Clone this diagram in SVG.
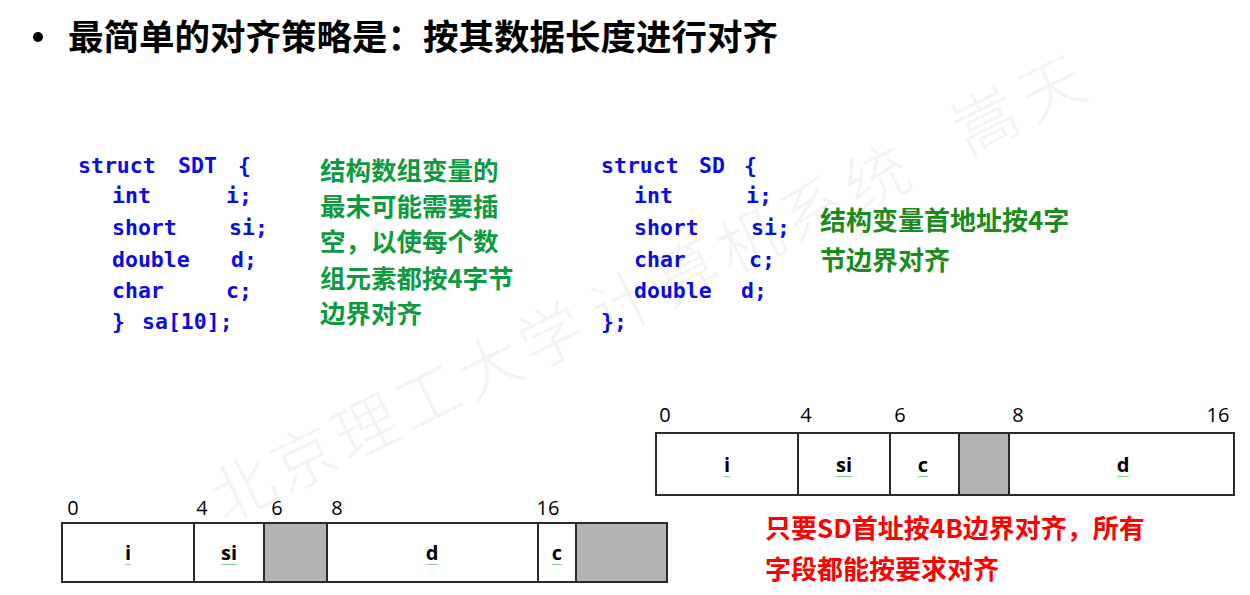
<svg xmlns="http://www.w3.org/2000/svg" width="1250" height="595" viewBox="0 0 1250 595">
<style>
.title{font-family:"Noto Sans CJK SC","Noto Sans",sans-serif;font-weight:700;font-size:35.5px;fill:#000}
.code{font-family:"DejaVu Sans Mono","Liberation Mono",monospace;font-weight:700;font-size:21.5px;fill:#0a0ae6}
.gl{font-family:"Noto Sans CJK SC",sans-serif;font-weight:700;font-size:25.5px;fill:#0e9a40}
.gr{font-family:"Noto Sans CJK SC",sans-serif;font-weight:700;font-size:26px;fill:#1b8c1b}
.red{font-family:"Noto Sans CJK SC",sans-serif;font-weight:700;font-size:26px;fill:#ff0000}
.num{font-family:"Open Sans","Noto Sans",sans-serif;font-size:20px;fill:#000;text-anchor:middle}
.cell{font-family:"Open Sans","Noto Sans",sans-serif;font-weight:700;font-size:20px;fill:#000;text-anchor:middle}
.box{fill:#fff;stroke:#2a2a2a;stroke-width:2}
.pad{fill:#b3b3b3;stroke:#2a2a2a;stroke-width:2}
.sq{fill:none;stroke:#6fbf6f;stroke-width:0.8}
.wm{font-family:"Noto Sans CJK SC",sans-serif;font-weight:300;font-size:64px;fill:#f3f3f3}
</style>
<rect width="1250" height="595" fill="#fff"/>
<g id="watermark">
<text class="wm" transform="translate(224,524) rotate(-26.3)" letter-spacing="5">北京理工大学</text>
<text class="wm" transform="translate(604,339) rotate(-26.3)" letter-spacing="7">计算机系统</text>
<text class="wm" transform="translate(967,156) rotate(-26.3)" letter-spacing="10">嵩天</text>
</g>
<g id="title">
<circle cx="38" cy="37" r="5" fill="#000"/>
<text class="title" x="68" y="50">最简单的对齐策略是：按其数据长度进行对齐</text>
</g>
<g id="code-sdt">
<text class="code" x="78" y="173">struct</text><text class="code" x="178" y="173">SDT</text><text class="code" x="238" y="173">{</text>
<text class="code" x="112" y="203">int</text><text class="code" x="226" y="203">i;</text>
<text class="code" x="112" y="235">short</text><text class="code" x="229" y="235">si;</text>
<text class="code" x="112" y="267">double</text><text class="code" x="231" y="267">d;</text>
<text class="code" x="112" y="298">char</text><text class="code" x="226" y="298">c;</text>
<text class="code" x="112" y="329">}</text><text class="code" x="142" y="329">sa[10];</text>
</g>
<g id="note-sdt">
<text class="gl" x="320" y="180">结构数组变量的</text>
<text class="gl" x="320" y="216">最末可能需要插</text>
<text class="gl" x="320" y="251">空，以使每个数</text>
<text class="gl" x="320" y="288">组元素都按4字节</text>
<text class="gl" x="320" y="323">边界对齐</text>
</g>
<g id="code-sd">
<text class="code" x="601" y="173">struct</text><text class="code" x="699" y="173">SD</text><text class="code" x="744" y="173">{</text>
<text class="code" x="634" y="203">int</text><text class="code" x="746" y="203">i;</text>
<text class="code" x="634" y="235">short</text><text class="code" x="751" y="235">si;</text>
<text class="code" x="634" y="267">char</text><text class="code" x="749" y="267">c;</text>
<text class="code" x="634" y="298">double</text><text class="code" x="741" y="298">d;</text>
<text class="code" x="601" y="329">};</text>
</g>
<g id="note-sd">
<text class="gr" x="820" y="230">结构变量首地址按4字</text>
<text class="gr" x="820" y="270">节边界对齐</text>
</g>
<g id="layout-sd">
<text class="num" x="665" y="422">0</text>
<text class="num" x="806" y="422">4</text>
<text class="num" x="900" y="422">6</text>
<text class="num" x="1018" y="422">8</text>
<text class="num" x="1218" y="422">16</text>
<rect class="box" x="656" y="433" width="142" height="62"/>
<rect class="box" x="798" y="433" width="92" height="62"/>
<rect class="box" x="890" y="433" width="69" height="62"/>
<rect class="pad" x="959" y="433" width="50" height="62"/>
<rect class="box" x="1009" y="433" width="225" height="62"/>
<text class="cell" x="727" y="472">i</text>
<text class="cell" x="844" y="472">si</text>
<text class="cell" x="923" y="472">c</text>
<text class="cell" x="1123" y="472">d</text>
<path class="sq" d="M724 476 l1 1 1-1 1 1 1-1 1 1 1-1"/>
<path class="sq" d="M836 476 l1 1 1-1 1 1 1-1 1 1 1-1 1 1 1-1 1 1 1-1 1 1 1-1 1 1 1-1 1 1 1-1"/>
<path class="sq" d="M918 476 l1 1 1-1 1 1 1-1 1 1 1-1 1 1 1-1 1 1 1-1"/>
<path class="sq" d="M1117 476 l1 1 1-1 1 1 1-1 1 1 1-1 1 1 1-1 1 1 1-1 1 1 1-1"/>
</g>
<g id="layout-sdt">
<text class="num" x="73" y="515">0</text>
<text class="num" x="202" y="515">4</text>
<text class="num" x="277" y="515">6</text>
<text class="num" x="337" y="515">8</text>
<text class="num" x="548" y="515">16</text>
<rect class="box" x="62" y="523" width="132" height="59"/>
<rect class="box" x="194" y="523" width="70" height="59"/>
<rect class="pad" x="264" y="523" width="63" height="59"/>
<rect class="box" x="327" y="523" width="211" height="59"/>
<rect class="box" x="538" y="523" width="38" height="59"/>
<rect class="pad" x="576" y="523" width="91" height="59"/>
<text class="cell" x="128" y="560">i</text>
<text class="cell" x="229" y="560">si</text>
<text class="cell" x="432" y="560">d</text>
<text class="cell" x="557" y="560">c</text>
<path class="sq" d="M125 564 l1 1 1-1 1 1 1-1 1 1 1-1"/>
<path class="sq" d="M221 564 l1 1 1-1 1 1 1-1 1 1 1-1 1 1 1-1 1 1 1-1 1 1 1-1 1 1 1-1 1 1 1-1"/>
<path class="sq" d="M426 564 l1 1 1-1 1 1 1-1 1 1 1-1 1 1 1-1 1 1 1-1 1 1 1-1"/>
<path class="sq" d="M552 564 l1 1 1-1 1 1 1-1 1 1 1-1 1 1 1-1 1 1 1-1"/>
</g>
<g id="note-red">
<text class="red" x="765" y="538">只要SD首址按4B边界对齐，所有</text>
<text class="red" x="765" y="579">字段都能按要求对齐</text>
</g>
</svg>
